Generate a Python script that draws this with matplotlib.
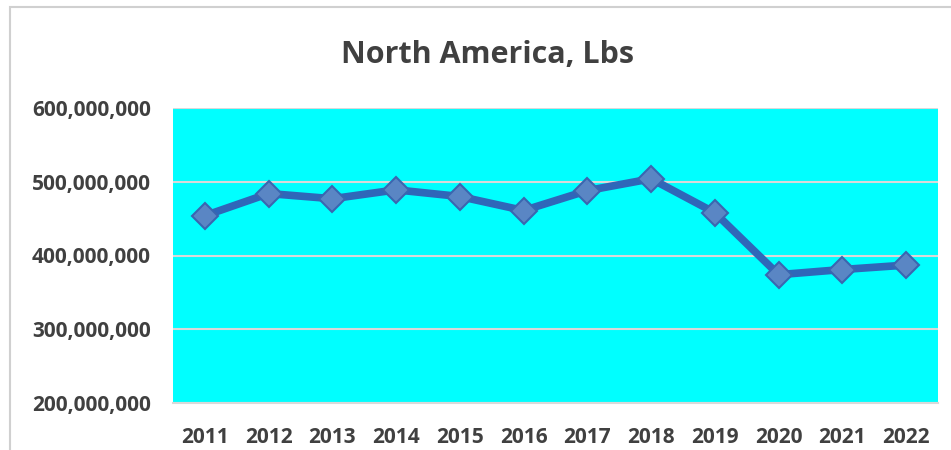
import matplotlib
matplotlib.use("Agg")
import matplotlib.pyplot as plt
from matplotlib.patches import Rectangle
from matplotlib.ticker import FuncFormatter

years = ["2011", "2012", "2013", "2014", "2015", "2016",
         "2017", "2018", "2019", "2020", "2021", "2022"]
lbs = [454e6, 484e6, 477e6, 489e6, 480e6, 461e6,
       488e6, 504e6, 458e6, 374e6, 381e6, 387e6]
y_ticks = [200e6, 300e6, 400e6, 500e6, 600e6]
title = "North America, Lbs"

text_color = "#404040"
font = "Open Sans"

fig = plt.figure(figsize=(9.51, 4.5), dpi=100)
fig.patch.set_facecolor("white")

# outer chart border (only left/top visible in the crop)
fig.add_artist(Rectangle((10 / 951, -0.1), 1.2, 1.1 - 7 / 450,
                         transform=fig.transFigure, fill=False,
                         edgecolor="#d0d0d0", linewidth=1.5))

ax = fig.add_axes([173 / 951, 1 - 403 / 450, (938 - 173) / 951, (403 - 108) / 450])
ax.set_facecolor("#00ffff")

x = range(len(years))
ax.plot(x, lbs, color="#2f67b9", linewidth=5.5, marker="D", markersize=13,
        markerfacecolor="#5a86c4", markeredgecolor="#3a66b0",
        markeredgewidth=1.5, zorder=3)

ax.set_xlim(-0.5, len(years) - 0.5)
ax.set_ylim(y_ticks[0], y_ticks[-1])
ax.set_yticks(y_ticks)
ax.yaxis.set_major_formatter(FuncFormatter(lambda v, p: f"{int(v):,}"))
ax.set_xticks(list(x))
ax.set_xticklabels(years)

ax.grid(axis="y", color="#d9d9d9", linewidth=1.5, zorder=1)
for side in ("top", "right", "left"):
    ax.spines[side].set_visible(False)
ax.spines["bottom"].set_color("#d9d9d9")
ax.spines["bottom"].set_linewidth(1.5)
ax.tick_params(axis="both", length=0, colors=text_color)
ax.tick_params(axis="y", pad=16)
ax.tick_params(axis="x", pad=17)
for lbl in ax.get_xticklabels() + ax.get_yticklabels():
    lbl.set_fontfamily(font)
    lbl.set_fontweight("bold")
    lbl.set_fontsize(15)

fig.text(487 / 951, 1 - 55 / 450, title, ha="center", va="center",
         fontsize=22, fontfamily=font, fontweight="bold", color=text_color)

fig.savefig("out.png", dpi=100)
